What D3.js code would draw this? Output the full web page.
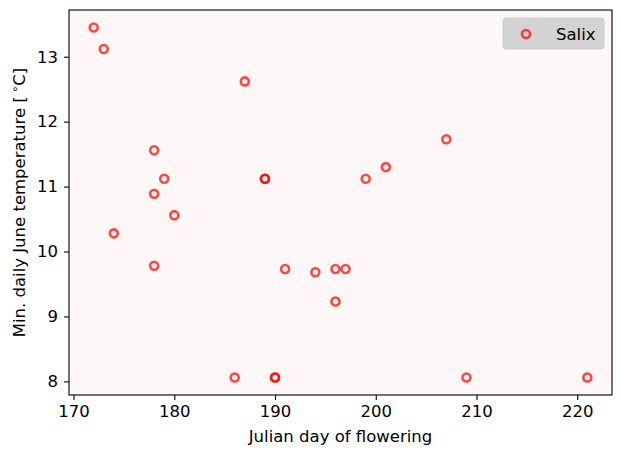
<!DOCTYPE html>
<html>
<head>
<meta charset="utf-8">
<script src="https://cdn.jsdelivr.net/npm/d3@7"></script>
<style>
  body { margin: 0; background: #fff; }
  svg { display: block; font-family: "DejaVu Sans", sans-serif; }
</style>
</head>
<body>
<svg id="chart" width="621" height="456"></svg>
<script>
// Julian day of flowering vs min. daily June temperature
var days = [172, 173, 187, 178, 179, 178, 189, 189, 180, 174, 178, 191, 194, 196, 197, 196, 186, 190, 190, 199, 201, 207, 209, 221];
var temps = [13.45, 13.12, 12.62, 11.56, 11.12, 10.89, 11.12, 11.12, 10.56, 10.28, 9.78, 9.73, 9.68, 9.73, 9.73, 9.23, 8.06, 8.06, 8.06, 11.12, 11.30, 11.73, 8.06, 8.06];
var xTicks = [170, 180, 190, 200, 210, 220];
var yTicks = [8, 9, 10, 11, 12, 13];
var seriesName = 'Salix';

var svg, margin, width, height, pad, xExt, yExt, x, y, g, pts, legend, ylab, fs;
fs = 16.5;
svg = d3.select('#chart');
margin = {top: 10, right: 9, bottom: 61, left: 69};
width = 621 - margin.left - margin.right;
height = 456 - margin.top - margin.bottom;

// matplotlib-style 5% margins around the data
pad = function(ext){
  var d = (ext[1] - ext[0]) * 0.05;
  return [ext[0] - d, ext[1] + d];
};
xExt = pad(d3.extent(days));
yExt = pad(d3.extent(temps));
x = d3.scaleLinear().domain(xExt).range([0, width]);
y = d3.scaleLinear().domain(yExt).range([height, 0]);

g = svg.append('g').attr('transform', 'translate(' + margin.left + ',' + margin.top + ')');
g.append('rect').attr('width', width).attr('height', height).attr('fill', '#fdf8f7');

g.append('g').attr('class', 'x axis').attr('transform', 'translate(0,' + height + ')')
  .call(d3.axisBottom(x).tickValues(xTicks).tickFormat(d3.format('d')).tickSize(5).tickPadding(5));
g.append('g').attr('class', 'y axis')
  .call(d3.axisLeft(y).tickValues(yTicks).tickFormat(d3.format('d')).tickSize(5).tickPadding(6));
g.selectAll('.axis').attr('font-size', fs).attr('font-family', 'DejaVu Sans');
g.selectAll('.axis text').attr('fill', '#000');
g.selectAll('.axis path').remove();
g.selectAll('.axis line').attr('stroke', '#000').attr('stroke-width', 1.1);

pts = d3.zip(days, temps);
g.append('g').selectAll('circle.pt').data(pts).enter().append('circle')
  .attr('class', 'pt')
  .attr('cx', function(d){ return x(d[0]); })
  .attr('cy', function(d){ return y(d[1]); })
  .attr('r', 4)
  .attr('fill', 'none')
  .attr('stroke', '#ff0000')
  .attr('stroke-opacity', 0.72)
  .attr('stroke-width', 2.6);

// frame
g.append('rect').attr('width', width).attr('height', height)
  .attr('fill', 'none').attr('stroke', '#000').attr('stroke-width', 1.1);

// axis titles
svg.append('text').attr('x', margin.left + width / 2).attr('y', 442)
  .attr('text-anchor', 'middle').attr('font-size', fs).text('Julian day of flowering');
ylab = svg.append('text').attr('transform', 'translate(25,' + (margin.top + height / 2) + ') rotate(-90)')
  .attr('text-anchor', 'middle').attr('font-size', fs);
ylab.append('tspan').text('Min. daily June temperature [\u2009');
ylab.append('tspan').attr('dy', -6).attr('font-size', fs * 0.7).text('\u2218');
ylab.append('tspan').attr('dy', 6).text('C]');

// legend
legend = g.append('g').attr('transform', 'translate(' + (width - 109) + ',8)');
legend.append('rect').attr('width', 101).attr('height', 31).attr('rx', 3)
  .attr('fill', '#d3d3d3').attr('stroke', '#cccccc');
legend.append('circle').attr('cx', 23).attr('cy', 16).attr('r', 4)
  .attr('fill', 'none').attr('stroke', '#ff0000').attr('stroke-opacity', 0.72).attr('stroke-width', 2.6);
legend.append('text').attr('x', 53).attr('y', 21.5).attr('font-size', fs).text(seriesName);
</script>
</body>
</html>
